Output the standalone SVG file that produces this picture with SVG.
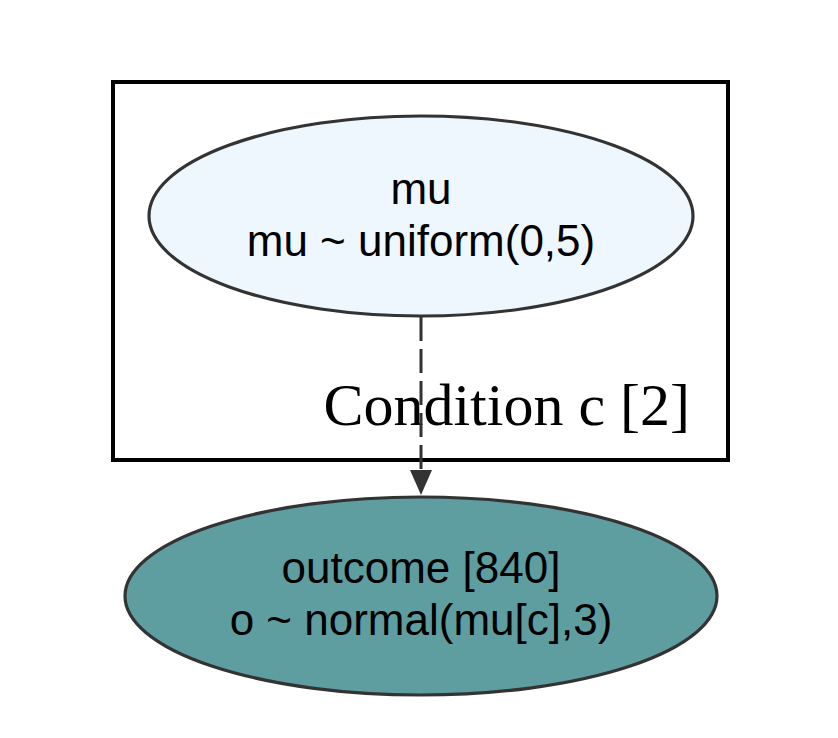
<svg xmlns="http://www.w3.org/2000/svg" width="838" height="738" viewBox="0 0 838 738">
<style>
.node ellipse{stroke:#333333;stroke-width:3.2}
.lbl{font-family:"Liberation Sans",Arial,sans-serif;font-size:44px;fill:#000;text-anchor:middle}
.clbl{font-family:"Liberation Serif","Times New Roman",serif;font-size:60px;fill:#000;text-anchor:end}
.edge{stroke:#333333;stroke-width:3;stroke-dasharray:24,8;fill:none}
</style>
<rect width="838" height="738" fill="#ffffff"/>
<g id="cluster_condition">
<rect x="113" y="82" width="615" height="378" fill="none" stroke="#000" stroke-width="4"/>
<text class="clbl" x="690" y="425">Condition c [2]</text>
</g>
<g id="node_mu" class="node">
<ellipse cx="421" cy="216" rx="272" ry="100" fill="#eff7fe"/>
<text class="lbl" x="421" y="204">mu</text>
<text class="lbl" x="421" y="256">mu ~ uniform(0,5)</text>
</g>
<g id="node_outcome" class="node">
<ellipse cx="421" cy="596" rx="296" ry="99" fill="#5f9ea0"/>
<text class="lbl" x="421" y="583">outcome [840]</text>
<text class="lbl" x="421" y="635">o ~ normal(mu[c],3)</text>
</g>
<g id="connectors">
<path class="edge" d="M421,317 L421,470"/>
<path d="M410,470 L432,470 L421,495 Z" fill="#333333"/>
</g>
</svg>
